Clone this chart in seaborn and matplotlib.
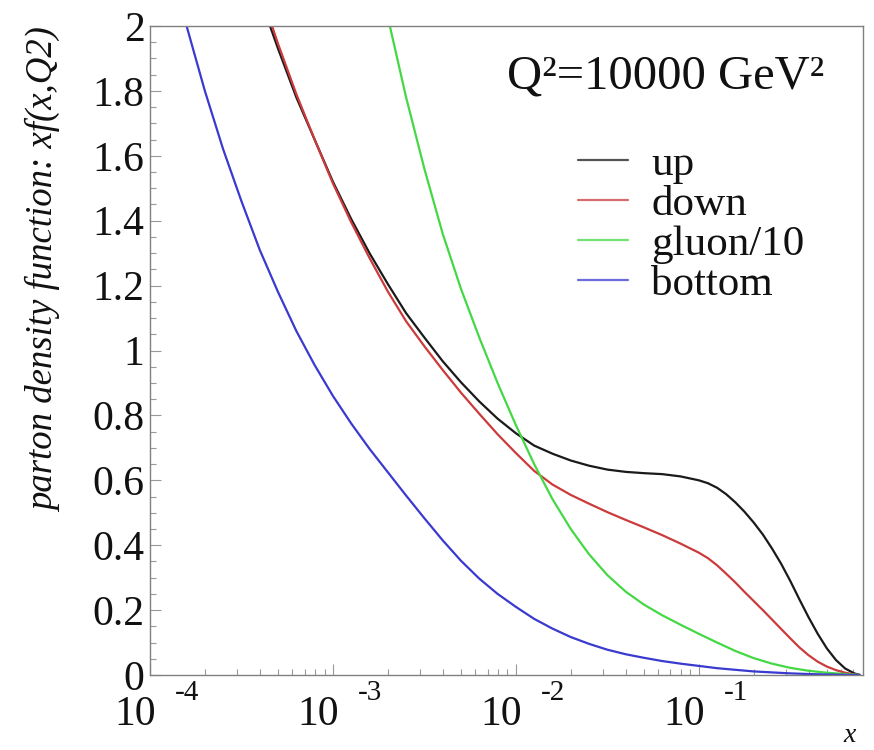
import numpy as np
import pandas as pd
import matplotlib
matplotlib.use("Agg")
import matplotlib.pyplot as plt
import matplotlib.transforms as mtransforms
from matplotlib.ticker import FixedLocator, FixedFormatter, NullFormatter, LogLocator
from matplotlib.lines import Line2D
import seaborn as sns

# ---------------- data ----------------
up_x = [4.53e-4, 5.012e-4, 6.310e-4, 7.943e-4, 1.0e-3, 1.259e-3, 1.585e-3, 1.995e-3,
        2.512e-3, 3.162e-3, 3.981e-3, 5.012e-3, 6.310e-3, 7.943e-3, 1.0e-2, 1.259e-2,
        1.585e-2, 1.995e-2, 2.512e-2, 3.162e-2, 3.981e-2, 5.012e-2, 6.310e-2, 7.943e-2,
        0.1, 0.1122, 0.1259, 0.1413, 0.1585, 0.1778, 0.1995, 0.2239, 0.2512, 0.2818,
        0.3162, 0.3548, 0.3981, 0.4467, 0.5012, 0.5623, 0.6310, 0.7079, 0.7586]
up_y = [2.0, 1.93, 1.78, 1.65, 1.52, 1.405, 1.30, 1.205,
        1.115, 1.04, 0.967, 0.902, 0.843, 0.79, 0.745, 0.707,
        0.682, 0.661, 0.645, 0.633, 0.626, 0.622, 0.619, 0.612,
        0.600, 0.591, 0.577, 0.557, 0.532, 0.503, 0.47, 0.433, 0.39, 0.343,
        0.29, 0.233, 0.178, 0.127, 0.082, 0.046, 0.02, 0.005, 0.0]

down_x = [4.645e-4, 5.012e-4, 6.310e-4, 7.943e-4, 1.0e-3, 1.259e-3, 1.585e-3, 1.995e-3,
          2.512e-3, 3.162e-3, 3.981e-3, 5.012e-3, 6.310e-3, 7.943e-3, 1.0e-2, 1.259e-2,
          1.585e-2, 1.995e-2, 2.512e-2, 3.162e-2, 3.981e-2, 5.012e-2, 6.310e-2, 7.943e-2,
          0.1, 0.1122, 0.1259, 0.1413, 0.1585, 0.1778, 0.1995, 0.2239, 0.2512, 0.2818,
          0.3162, 0.3548, 0.3981, 0.4467, 0.5012, 0.5623, 0.6310, 0.7079, 0.7586]
down_y = [2.0, 1.945, 1.79, 1.65, 1.515, 1.395, 1.285, 1.182,
          1.09, 1.013, 0.94, 0.87, 0.805, 0.742, 0.684, 0.629,
          0.587, 0.555, 0.528, 0.502, 0.478, 0.455, 0.431, 0.405,
          0.377, 0.36, 0.338, 0.312, 0.285, 0.256, 0.228, 0.2, 0.171, 0.142,
          0.113, 0.085, 0.061, 0.041, 0.026, 0.015, 0.007, 0.002, 0.0]

gluon_x = [2.047e-3, 2.512e-3, 3.162e-3, 3.981e-3, 5.012e-3, 6.310e-3, 7.943e-3, 1.0e-2,
           1.259e-2, 1.585e-2, 1.995e-2, 2.512e-2, 3.162e-2, 3.981e-2, 5.012e-2, 6.310e-2,
           7.943e-2, 0.1, 0.1259, 0.1585, 0.1995, 0.2512, 0.3162, 0.3981, 0.5012, 0.6310,
           0.7586]
gluon_y = [2.0, 1.78, 1.56, 1.36, 1.19, 1.04, 0.90, 0.77,
           0.65, 0.542, 0.45, 0.372, 0.308, 0.257, 0.217, 0.184,
           0.155, 0.127, 0.10, 0.074, 0.052, 0.035, 0.022, 0.013, 0.007, 0.003,
           0.0]

bottom_x = [1.585e-4, 1.995e-4, 2.512e-4, 3.162e-4, 3.981e-4, 5.012e-4, 6.310e-4, 7.943e-4,
            1.0e-3, 1.259e-3, 1.585e-3, 1.995e-3, 2.512e-3, 3.162e-3, 3.981e-3, 5.012e-3,
            6.310e-3, 7.943e-3, 1.0e-2, 1.259e-2, 1.585e-2, 1.995e-2, 2.512e-2, 3.162e-2,
            3.981e-2, 5.012e-2, 6.310e-2, 7.943e-2, 0.1, 0.1259, 0.1585, 0.1995, 0.2512,
            0.3162, 0.3981, 0.5012, 0.6310, 0.7586]
bottom_y = [2.0, 1.80, 1.62, 1.46, 1.31, 1.18, 1.06, 0.955,
            0.86, 0.775, 0.697, 0.625, 0.553, 0.483, 0.415, 0.352,
            0.297, 0.25, 0.21, 0.173, 0.143, 0.117, 0.096, 0.078,
            0.064, 0.053, 0.043, 0.035, 0.028, 0.021, 0.016, 0.011, 0.008,
            0.005, 0.003, 0.0015, 0.0005, 0.0]

series_names = ["up", "down", "gluon/10", "bottom"]
series_colors = ["#1a1a1a", "#cc3b3b", "#45d845", "#3a3ad0"]

y_ticks = [0, 0.2, 0.4, 0.6, 0.8, 1.0, 1.2, 1.4, 1.6, 1.8, 2.0]
y_tick_labels = ["0", "0.2", "0.4", "0.6", "0.8", "1", "1.2", "1.4", "1.6", "1.8", "2"]
x_decades = [1e-4, 1e-3, 1e-2, 1e-1]
x_decade_exps = ["-4", "-3", "-2", "-1"]

title_text = "Q²=10000 GeV²"
y_label = "parton density function: xf(x,Q2)"
x_label = "x"

# ---------------- build table ----------------
frames = []
for name, xs, ys in zip(series_names,
                        [up_x, down_x, gluon_x, bottom_x],
                        [up_y, down_y, gluon_y, bottom_y]):
    frames.append(pd.DataFrame({"x": xs, "y": ys, "pdf": name}))
df = pd.concat(frames, ignore_index=True)

# ---------------- style ----------------
sns.set_theme(style="white")
plt.rcParams["font.family"] = ["Liberation Serif", "DejaVu Serif"]

fig = plt.figure(figsize=(8.74, 7.5), dpi=100)
fig.patch.set_facecolor("white")
ax = fig.add_axes([150 / 874, 75 / 750, 713 / 874, 649 / 750])

palette = dict(zip(series_names, series_colors))
sns.lineplot(data=df, x="x", y="y", hue="pdf", palette=palette, sort=False,
             estimator=None, linewidth=1.6, ax=ax, legend=False)

ax.set_xscale("log")
ax.set_xlim(1e-4, 0.79)
ax.set_ylim(0, 2)
ax.set_xlabel("")
ax.set_ylabel("")

for sp in ax.spines.values():
    sp.set_color("#808080")
    sp.set_linewidth(1.0)

# y ticks
ax.yaxis.set_major_locator(FixedLocator(y_ticks))
ax.yaxis.set_major_formatter(FixedFormatter(y_tick_labels))
ax.yaxis.set_minor_locator(FixedLocator(list(np.arange(0, 2.0001, 0.05))))
# x ticks
ax.xaxis.set_major_locator(FixedLocator(x_decades))
ax.xaxis.set_major_formatter(NullFormatter())
ax.xaxis.set_minor_locator(LogLocator(base=10, subs=np.arange(2, 10)))
ax.xaxis.set_minor_formatter(NullFormatter())

ax.tick_params(axis="both", which="major", direction="in", length=8, width=0.8,
               color="#999999", top=False, right=False, bottom=True, left=True)
ax.tick_params(axis="both", which="minor", direction="in", length=4.5, width=0.8,
               color="#999999", top=False, right=False, bottom=True, left=True)
ax.tick_params(axis="y", which="major", labelsize=30, pad=4, labelcolor="#111111")

# x decade labels as "10" + raised exponent (ROOT style)
base = mtransforms.blended_transform_factory(ax.transData, ax.transAxes)
for xv, ex in zip(x_decades, x_decade_exps):
    t1 = base + mtransforms.ScaledTranslation(-15 / 100, -40 / 100, fig.dpi_scale_trans)
    ax.text(xv, 0, "10", transform=t1, ha="center", va="center", fontsize=30,
            color="#111111")
    t2 = base + mtransforms.ScaledTranslation(37 / 100, -18 / 100, fig.dpi_scale_trans)
    ax.text(xv, 0, ex, transform=t2, ha="center", va="center", fontsize=21,
            color="#111111")

# axis labels
ax.text((850 - 150) / 713, -(735 - 675) / 649, x_label, transform=ax.transAxes,
        ha="center", va="center", fontsize=20, style="italic", color="#111111")
fig.text(45 / 874, 1 - 270 / 750, y_label, rotation=90, ha="center", va="center",
         fontsize=26.5, style="italic", color="#111111")

# header text
ax.text((507 - 150) / 713, (675 - 77) / 649, title_text, transform=ax.transAxes,
        ha="left", va="center", fontsize=35, color="#111111")

# legend
handles = [Line2D([], [], color=c, linewidth=1.6, alpha=0.75) for c in series_colors]
leg = ax.legend(handles, series_names, loc="upper left",
                bbox_to_anchor=((578 - 150) / 713, (675 - 145) / 649),
                frameon=False, fontsize=31, handlelength=1.15, handletextpad=0.55,
                labelspacing=0.02, borderpad=0, borderaxespad=0)
for t in leg.get_texts():
    t.set_color("#111111")

fig.savefig("out.png", dpi=100, facecolor="white")
